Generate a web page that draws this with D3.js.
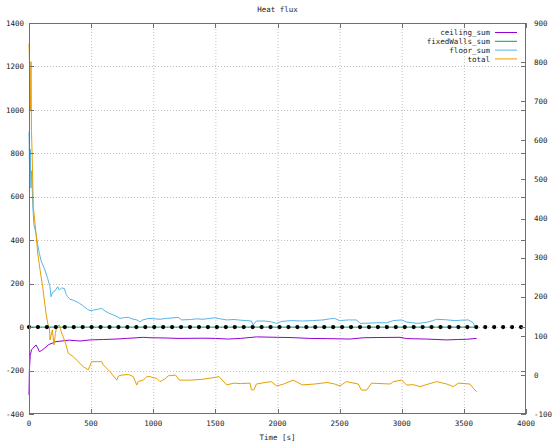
<!DOCTYPE html>
<html><head><meta charset="utf-8">
<script src="https://cdn.jsdelivr.net/npm/d3@7"></script>
<style>body{margin:0;background:#fff}text{font-family:"DejaVu Sans Mono",monospace;font-size:7.5px;fill:#222}</style>
</head><body><svg id="c" width="552" height="442"></svg>
<script>
const title = "Heat flux";
const xLabel = "Time [s]";
const xTicks = [0,500,1000,1500,2000,2500,3000,3500,4000];
const yTicks = [-400,-200,0,200,400,600,800,1000,1200,1400];
const y2Ticks = [-100,0,100,200,300,400,500,600,700,800,900];
const seriesNames = ["ceiling_sum","fixedWalls_sum","floor_sum","total"];
const seriesColors = ["#9400d3","#009e73","#56b4e9","#e69f00"];

const ceilingSum = [[0,-313],[3,-200],[10,-130],[20,-105],[30,-98],[56,-82],[70,-95],[83,-113],[100,-108],[123,-98],[160,-80],[217,-67],[325,-60],[410,-64],[491,-59],[600,-57],[700,-55],[786,-52],[920,-47],[974,-49],[1100,-50],[1200,-52],[1400,-51],[1500,-52],[1600,-55],[1700,-52],[1832,-45],[2000,-47],[2100,-48],[2260,-52],[2400,-53],[2584,-55],[2690,-49],[2800,-48],[2986,-47],[3040,-53],[3200,-55],[3362,-59],[3450,-57],[3523,-56],[3603,-52]];
const fixedWallsSum = [[0,0],[3590,0]];
const floorSum = [[0,900],[5,700],[10,820],[15,640],[22,720],[30,560],[40,470],[56,432],[70,380],[83,340],[100,300],[123,271],[150,224],[169,186],[177,140],[190,160],[204,163],[231,186],[244,171],[262,180],[284,178],[300,150],[311,140],[330,128],[351,125],[380,118],[405,110],[430,100],[445,94],[470,82],[491,76],[520,78],[550,82],[585,86],[612,74],[640,65],[679,56],[710,48],[732,40],[770,44],[799,45],[830,38],[867,33],[880,30],[893,23],[910,32],[960,40],[974,40],[1054,36],[1100,40],[1150,42],[1200,45],[1230,33],[1300,35],[1350,38],[1400,36],[1450,40],[1497,43],[1540,38],[1591,33],[1650,35],[1700,32],[1752,30],[1790,28],[1803,10],[1830,28],[1900,28],[1950,24],[1993,17],[2030,26],[2110,30],[2200,28],[2280,30],[2366,33],[2420,38],[2460,40],[2500,30],[2570,33],[2637,33],[2664,17],[2720,18],[2800,20],[2879,20],[2932,30],[3000,33],[3040,23],[3126,17],[3200,22],[3250,30],[3281,36],[3350,34],[3429,30],[3480,32],[3536,33],[3576,20],[3590,0]];
const totalSum = [[0,1306],[4,1220],[8,1100],[12,1000],[16,1222],[20,900],[25,800],[35,554],[56,433],[70,341],[90,260],[110,186],[137,63],[155,5],[164,2],[169,-59],[188,-13],[201,-82],[212,-30],[223,0],[244,10],[263,-27],[290,-67],[317,-121],[357,-136],[380,-150],[410,-167],[437,-182],[477,-197],[504,-159],[585,-159],[598,-174],[652,-205],[706,-244],[720,-225],[746,-221],[800,-218],[840,-228],[867,-267],[880,-250],[920,-244],[947,-228],[974,-228],[1000,-233],[1028,-236],[1054,-251],[1090,-240],[1122,-224],[1180,-221],[1210,-244],[1300,-244],[1400,-240],[1481,-233],[1530,-228],[1591,-266],[1650,-258],[1700,-260],[1779,-258],[1790,-289],[1811,-289],[1830,-262],[1900,-255],[1950,-251],[1993,-271],[2050,-262],[2126,-244],[2200,-266],[2300,-262],[2400,-255],[2460,-262],[2503,-271],[2554,-251],[2650,-262],[2676,-290],[2717,-290],[2757,-258],[2905,-262],[2932,-251],[3000,-244],[3040,-267],[3094,-265],[3147,-274],[3214,-262],[3281,-251],[3362,-262],[3415,-274],[3455,-258],[3549,-262],[3576,-282],[3603,-297]];
const zeroDotTimes = [0,72,144,216,288,360,432,504,576,648,720,792,864,936,1008,1080,1152,1224,1296,1368,1440,1512,1584,1656,1728,1800,1872,1944,2016,2088,2160,2232,2304,2376,2448,2520,2592,2664,2736,2808,2880,2952,3024,3096,3168,3240,3312,3384,3456,3528,3600,3672,3744,3816,3888,3960];

const svg = d3.select("#c");
const L=29, R=526, T=23, B=414;
const x = d3.scaleLinear().domain([0,4000]).range([L,R]);
const y = d3.scaleLinear().domain([-400,1400]).range([B,T]);
const y2 = d3.scaleLinear().domain([-100,900]).range([B,T]);
const tk = 5;

// grid
const g = svg.append("g").attr("stroke","#b0b0b0").attr("stroke-width",0.8).attr("stroke-dasharray","1,2");
xTicks.filter(t=>t>0&&t<4000).forEach(t=>g.append("line").attr("x1",x(t)+.5).attr("x2",x(t)+.5).attr("y1",T).attr("y2",B));
yTicks.filter(t=>t>-400&&t<1400).forEach(t=>g.append("line").attr("x1",L).attr("x2",R).attr("y1",Math.round(y(t))+.5).attr("y2",Math.round(y(t))+.5));

// series
const line = d3.line().x(d=>x(d[0])).y(d=>y(d[1]));
const all = [ceilingSum,fixedWallsSum,floorSum,totalSum];
all.forEach((s,i)=>svg.append("path").attr("d",line(s)).attr("fill","none").attr("stroke",seriesColors[i]).attr("stroke-width",1));

// zero dots
svg.append("g").selectAll("circle").data(zeroDotTimes).join("circle")
  .attr("cx",d=>x(d)).attr("cy",y(0)).attr("r",2.1).attr("fill","#000");

// border & ticks
const ax = svg.append("g").attr("stroke","#707070").attr("stroke-width",1).attr("fill","none");
ax.append("rect").attr("x",L+.5).attr("y",T+.5).attr("width",R-L-1).attr("height",B-T-1);
xTicks.forEach(t=>{const px=Math.round(x(t))+.5;
  ax.append("line").attr("x1",px).attr("x2",px).attr("y1",B).attr("y2",B-tk);
  ax.append("line").attr("x1",px).attr("x2",px).attr("y1",T).attr("y2",T+tk);});
yTicks.forEach(t=>{const py=Math.round(y(t))+.5;
  ax.append("line").attr("x1",L).attr("x2",L+tk).attr("y1",py).attr("y2",py);
  ax.append("line").attr("x1",R).attr("x2",R-tk).attr("y1",py).attr("y2",py);});
y2Ticks.forEach(t=>{const py=Math.round(y2(t))+.5;
  ax.append("line").attr("x1",R).attr("x2",R-tk).attr("y1",py).attr("y2",py);});

// labels
xTicks.forEach(t=>svg.append("text").attr("x",x(t)).attr("y",426).attr("text-anchor","middle").text(t));
yTicks.forEach(t=>svg.append("text").attr("x",24).attr("y",y(t)+2.7).attr("text-anchor","end").text(t));
y2Ticks.forEach(t=>svg.append("text").attr("x",534).attr("y",y2(t)+2.7).attr("text-anchor","start").text(t));
svg.append("text").attr("x",(L+R)/2).attr("y",12).attr("text-anchor","middle").text(title);
svg.append("text").attr("x",(L+R)/2).attr("y",440).attr("text-anchor","middle").text(xLabel);

// legend
seriesNames.forEach((n,i)=>{const ly=32.5+i*8.8;
  svg.append("text").attr("x",490).attr("y",ly+2.7).attr("text-anchor","end").text(n);
  svg.append("line").attr("x1",495).attr("x2",517).attr("y1",ly).attr("y2",ly).attr("stroke",seriesColors[i]).attr("stroke-width",1);});
</script></body></html>
